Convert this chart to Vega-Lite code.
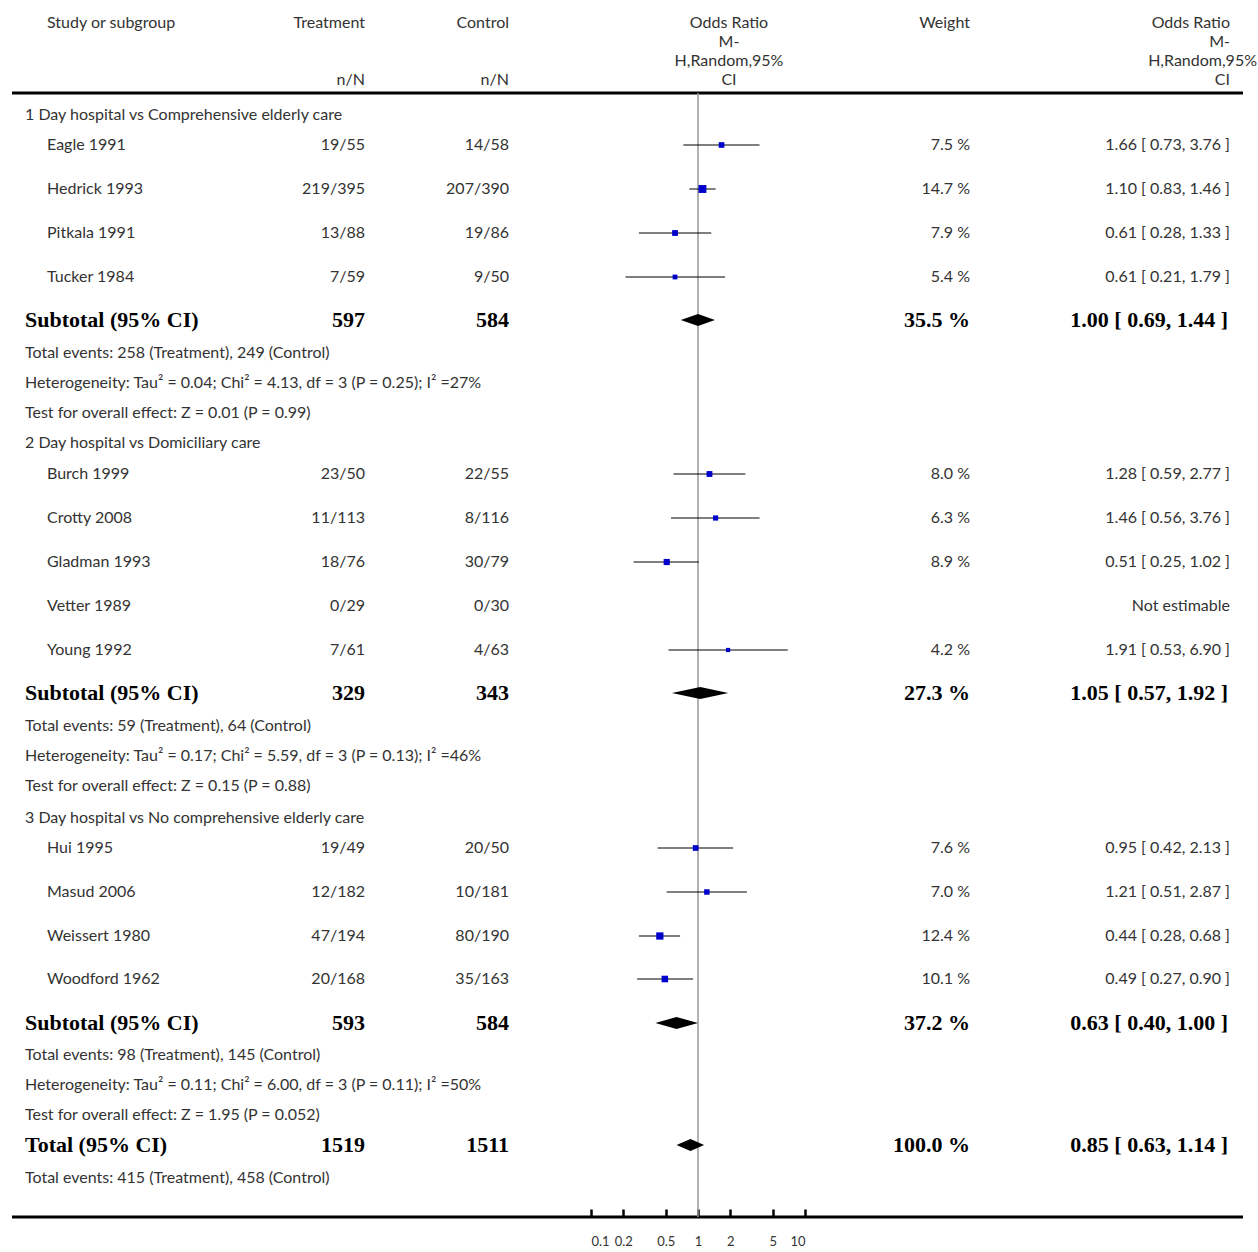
{
  "$schema": "https://vega.github.io/schema/vega-lite/v6.json",
  "width": 1258,
  "height": 1217,
  "padding": 0,
  "autosize": {"type": "pad"},
  "config": {"view": {"stroke": null}, "text": {"font": "Lato", "fontSize": 16, "color": "#333", "baseline": "middle"}},
  "datasets": {
    "cells": [
      {"c": "study", "y": 23, "t": "Study or subgroup", "b": 0},
      {"c": "treat", "y": 23, "t": "Treatment", "b": 0},
      {"c": "ctrl", "y": 23, "t": "Control", "b": 0},
      {"c": "treat", "y": 80, "t": "n/N", "b": 0},
      {"c": "ctrl", "y": 80, "t": "n/N", "b": 0},
      {"c": "orh", "y": 23, "t": "Odds Ratio", "b": 0},
      {"c": "orh", "y": 42, "t": "M-", "b": 0},
      {"c": "orh", "y": 61, "t": "H,Random,95%", "b": 0},
      {"c": "orh", "y": 80, "t": "CI", "b": 0},
      {"c": "wt", "y": 23, "t": "Weight", "b": 0},
      {"c": "or", "y": 23, "t": "Odds Ratio", "b": 0},
      {"c": "or", "y": 42, "t": "M-", "b": 0},
      {"c": "or2", "y": 61, "t": "H,Random,95%", "b": 0},
      {"c": "or", "y": 80, "t": "CI", "b": 0},
      {"c": "sub", "y": 115, "t": "1 Day hospital vs Comprehensive elderly care", "b": 0},
      {"c": "study", "y": 145, "t": "Eagle 1991", "b": 0},
      {"c": "treat", "y": 145, "t": "19/55", "b": 0},
      {"c": "ctrl", "y": 145, "t": "14/58", "b": 0},
      {"c": "wt", "y": 145, "t": "7.5 %", "b": 0},
      {"c": "or", "y": 145, "t": "1.66 [ 0.73, 3.76 ]", "b": 0},
      {"c": "study", "y": 189, "t": "Hedrick 1993", "b": 0},
      {"c": "treat", "y": 189, "t": "219/395", "b": 0},
      {"c": "ctrl", "y": 189, "t": "207/390", "b": 0},
      {"c": "wt", "y": 189, "t": "14.7 %", "b": 0},
      {"c": "or", "y": 189, "t": "1.10 [ 0.83, 1.46 ]", "b": 0},
      {"c": "study", "y": 233, "t": "Pitkala 1991", "b": 0},
      {"c": "treat", "y": 233, "t": "13/88", "b": 0},
      {"c": "ctrl", "y": 233, "t": "19/86", "b": 0},
      {"c": "wt", "y": 233, "t": "7.9 %", "b": 0},
      {"c": "or", "y": 233, "t": "0.61 [ 0.28, 1.33 ]", "b": 0},
      {"c": "study", "y": 277, "t": "Tucker 1984", "b": 0},
      {"c": "treat", "y": 277, "t": "7/59", "b": 0},
      {"c": "ctrl", "y": 277, "t": "9/50", "b": 0},
      {"c": "wt", "y": 277, "t": "5.4 %", "b": 0},
      {"c": "or", "y": 277, "t": "0.61 [ 0.21, 1.79 ]", "b": 0},
      {"c": "sub", "y": 320, "t": "Subtotal (95% CI)", "b": 1},
      {"c": "treat", "y": 320, "t": "597", "b": 1},
      {"c": "ctrl", "y": 320, "t": "584", "b": 1},
      {"c": "wt", "y": 320, "t": "35.5 %", "b": 1},
      {"c": "or", "y": 320, "t": "1.00 [ 0.69, 1.44 ]", "b": 1},
      {"c": "sub", "y": 353, "t": "Total events: 258 (Treatment), 249 (Control)", "b": 0},
      {"c": "sub", "y": 383, "t": "Heterogeneity: Tau² = 0.04; Chi² = 4.13, df = 3 (P = 0.25); I² =27%", "b": 0},
      {"c": "sub", "y": 413, "t": "Test for overall effect: Z = 0.01  (P = 0.99)", "b": 0},
      {"c": "sub", "y": 443, "t": "2 Day hospital vs Domiciliary care", "b": 0},
      {"c": "study", "y": 474, "t": "Burch 1999", "b": 0},
      {"c": "treat", "y": 474, "t": "23/50", "b": 0},
      {"c": "ctrl", "y": 474, "t": "22/55", "b": 0},
      {"c": "wt", "y": 474, "t": "8.0 %", "b": 0},
      {"c": "or", "y": 474, "t": "1.28 [ 0.59, 2.77 ]", "b": 0},
      {"c": "study", "y": 518, "t": "Crotty 2008", "b": 0},
      {"c": "treat", "y": 518, "t": "11/113", "b": 0},
      {"c": "ctrl", "y": 518, "t": "8/116", "b": 0},
      {"c": "wt", "y": 518, "t": "6.3 %", "b": 0},
      {"c": "or", "y": 518, "t": "1.46 [ 0.56, 3.76 ]", "b": 0},
      {"c": "study", "y": 562, "t": "Gladman 1993", "b": 0},
      {"c": "treat", "y": 562, "t": "18/76", "b": 0},
      {"c": "ctrl", "y": 562, "t": "30/79", "b": 0},
      {"c": "wt", "y": 562, "t": "8.9 %", "b": 0},
      {"c": "or", "y": 562, "t": "0.51 [ 0.25, 1.02 ]", "b": 0},
      {"c": "study", "y": 606, "t": "Vetter 1989", "b": 0},
      {"c": "treat", "y": 606, "t": "0/29", "b": 0},
      {"c": "ctrl", "y": 606, "t": "0/30", "b": 0},
      {"c": "or", "y": 606, "t": "Not estimable", "b": 0},
      {"c": "study", "y": 650, "t": "Young 1992", "b": 0},
      {"c": "treat", "y": 650, "t": "7/61", "b": 0},
      {"c": "ctrl", "y": 650, "t": "4/63", "b": 0},
      {"c": "wt", "y": 650, "t": "4.2 %", "b": 0},
      {"c": "or", "y": 650, "t": "1.91 [ 0.53, 6.90 ]", "b": 0},
      {"c": "sub", "y": 693, "t": "Subtotal (95% CI)", "b": 1},
      {"c": "treat", "y": 693, "t": "329", "b": 1},
      {"c": "ctrl", "y": 693, "t": "343", "b": 1},
      {"c": "wt", "y": 693, "t": "27.3 %", "b": 1},
      {"c": "or", "y": 693, "t": "1.05 [ 0.57, 1.92 ]", "b": 1},
      {"c": "sub", "y": 726, "t": "Total events: 59 (Treatment), 64 (Control)", "b": 0},
      {"c": "sub", "y": 756, "t": "Heterogeneity: Tau² = 0.17; Chi² = 5.59, df = 3 (P = 0.13); I² =46%", "b": 0},
      {"c": "sub", "y": 786, "t": "Test for overall effect: Z = 0.15  (P = 0.88)", "b": 0},
      {"c": "sub", "y": 818, "t": "3 Day hospital vs No comprehensive elderly care", "b": 0},
      {"c": "study", "y": 848, "t": "Hui 1995", "b": 0},
      {"c": "treat", "y": 848, "t": "19/49", "b": 0},
      {"c": "ctrl", "y": 848, "t": "20/50", "b": 0},
      {"c": "wt", "y": 848, "t": "7.6 %", "b": 0},
      {"c": "or", "y": 848, "t": "0.95 [ 0.42, 2.13 ]", "b": 0},
      {"c": "study", "y": 892, "t": "Masud   2006", "b": 0},
      {"c": "treat", "y": 892, "t": "12/182", "b": 0},
      {"c": "ctrl", "y": 892, "t": "10/181", "b": 0},
      {"c": "wt", "y": 892, "t": "7.0 %", "b": 0},
      {"c": "or", "y": 892, "t": "1.21 [ 0.51, 2.87 ]", "b": 0},
      {"c": "study", "y": 936, "t": "Weissert 1980", "b": 0},
      {"c": "treat", "y": 936, "t": "47/194", "b": 0},
      {"c": "ctrl", "y": 936, "t": "80/190", "b": 0},
      {"c": "wt", "y": 936, "t": "12.4 %", "b": 0},
      {"c": "or", "y": 936, "t": "0.44 [ 0.28, 0.68 ]", "b": 0},
      {"c": "study", "y": 979, "t": "Woodford 1962", "b": 0},
      {"c": "treat", "y": 979, "t": "20/168", "b": 0},
      {"c": "ctrl", "y": 979, "t": "35/163", "b": 0},
      {"c": "wt", "y": 979, "t": "10.1 %", "b": 0},
      {"c": "or", "y": 979, "t": "0.49 [ 0.27, 0.90 ]", "b": 0},
      {"c": "sub", "y": 1023, "t": "Subtotal (95% CI)", "b": 1},
      {"c": "treat", "y": 1023, "t": "593", "b": 1},
      {"c": "ctrl", "y": 1023, "t": "584", "b": 1},
      {"c": "wt", "y": 1023, "t": "37.2 %", "b": 1},
      {"c": "or", "y": 1023, "t": "0.63 [ 0.40, 1.00 ]", "b": 1},
      {"c": "sub", "y": 1055, "t": "Total events: 98 (Treatment), 145 (Control)", "b": 0},
      {"c": "sub", "y": 1085, "t": "Heterogeneity: Tau² = 0.11; Chi² = 6.00, df = 3 (P = 0.11); I² =50%", "b": 0},
      {"c": "sub", "y": 1115, "t": "Test for overall effect: Z = 1.95  (P = 0.052)", "b": 0},
      {"c": "sub", "y": 1145, "t": "Total (95% CI)", "b": 1},
      {"c": "treat", "y": 1145, "t": "1519", "b": 1},
      {"c": "ctrl", "y": 1145, "t": "1511", "b": 1},
      {"c": "wt", "y": 1145, "t": "100.0 %", "b": 1},
      {"c": "or", "y": 1145, "t": "0.85 [ 0.63, 1.14 ]", "b": 1},
      {"c": "sub", "y": 1178, "t": "Total events: 415 (Treatment), 458 (Control)", "b": 0}
    ],
    "studies": [
      {"y": 145, "or": 1.66, "lo": 0.73, "hi": 3.76, "w": 7.5},
      {"y": 189, "or": 1.10, "lo": 0.83, "hi": 1.46, "w": 14.7},
      {"y": 233, "or": 0.61, "lo": 0.28, "hi": 1.33, "w": 7.9},
      {"y": 277, "or": 0.61, "lo": 0.21, "hi": 1.79, "w": 5.4},
      {"y": 474, "or": 1.28, "lo": 0.59, "hi": 2.77, "w": 8.0},
      {"y": 518, "or": 1.46, "lo": 0.56, "hi": 3.76, "w": 6.3},
      {"y": 562, "or": 0.51, "lo": 0.25, "hi": 1.02, "w": 8.9},
      {"y": 650, "or": 1.91, "lo": 0.53, "hi": 6.90, "w": 4.2},
      {"y": 848, "or": 0.95, "lo": 0.42, "hi": 2.13, "w": 7.6},
      {"y": 892, "or": 1.21, "lo": 0.51, "hi": 2.87, "w": 7.0},
      {"y": 936, "or": 0.44, "lo": 0.28, "hi": 0.68, "w": 12.4},
      {"y": 979, "or": 0.49, "lo": 0.27, "hi": 0.90, "w": 10.1}
    ],
    "diamonds": [
      {"d": "s1", "y": 320, "x": 0.69, "tip": 0},
      {"d": "s1", "y": 320, "x": 1.00, "tip": 1},
      {"d": "s1", "y": 320, "x": 1.44, "tip": 0},
      {"d": "s2", "y": 693, "x": 0.57, "tip": 0},
      {"d": "s2", "y": 693, "x": 1.05, "tip": 1},
      {"d": "s2", "y": 693, "x": 1.92, "tip": 0},
      {"d": "s3", "y": 1023, "x": 0.40, "tip": 0},
      {"d": "s3", "y": 1023, "x": 0.63, "tip": 1},
      {"d": "s3", "y": 1023, "x": 1.00, "tip": 0},
      {"d": "t", "y": 1145, "x": 0.63, "tip": 0},
      {"d": "t", "y": 1145, "x": 0.85, "tip": 1},
      {"d": "t", "y": 1145, "x": 1.14, "tip": 0}
    ],
    "hlines": [{"y": 93}, {"y": 1217}]
  },
  "resolve": {"scale": {"x": "independent", "size": "independent"}, "axis": {"x": "independent"}},
  "layer": [
    {
      "data": {"name": "hlines"},
      "mark": {"type": "rule", "strokeWidth": 3, "color": "#000"},
      "encoding": {
        "x": {"value": 12},
        "x2": {"value": 1243},
        "y": {"field": "y", "type": "quantitative", "axis": null, "scale": {"domain": [0, 1217], "reverse": true, "nice": false, "zero": false}}
      }
    },
    {
      "data": {"values": [{"y": 93, "y2": 1217}]},
      "mark": {"type": "rule", "color": "#999", "strokeWidth": 1.5},
      "encoding": {
        "x": {"datum": 1, "type": "quantitative", "axis": null, "scale": {"type": "log", "domain": [0.1, 10], "range": [591, 805]}},
        "y": {"field": "y", "type": "quantitative"},
        "y2": {"field": "y2"}
      }
    },
    {
      "data": {"name": "studies"},
      "mark": {"type": "rule", "color": "#000", "strokeWidth": 1},
      "encoding": {
        "x": {"field": "lo", "type": "quantitative", "axis": null, "scale": {"type": "log", "domain": [0.1, 10], "range": [591, 805]}},
        "x2": {"field": "hi"},
        "y": {"field": "y", "type": "quantitative"}
      }
    },
    {
      "data": {"name": "studies"},
      "mark": {"type": "point", "shape": "square", "filled": true, "color": "#0000cc", "opacity": 1},
      "encoding": {
        "x": {"field": "or", "type": "quantitative", "scale": {"type": "log", "domain": [0.1, 10], "range": [591, 805]},
          "axis": {"orient": "bottom", "title": null, "values": [0.1, 0.2, 0.5, 1, 2, 5, 10], "format": ".1~f", "domain": false, "grid": false,
            "tickSize": -8, "tickWidth": 2.5, "tickColor": "#000", "labelPadding": 26, "labelFont": "Lato", "labelFontSize": 13, "labelColor": "#333"}},
        "y": {"field": "y", "type": "quantitative"},
        "size": {"field": "w", "type": "quantitative", "legend": null, "scale": {"domain": [0, 15], "range": [0, 64]}}
      }
    },
    {
      "data": {"name": "diamonds"},
      "transform": [
        {"calculate": "datum.y - 6 * datum.tip", "as": "top"},
        {"calculate": "datum.y + 6 * datum.tip", "as": "bot"}
      ],
      "mark": {"type": "area", "color": "#000", "orient": "vertical"},
      "encoding": {
        "x": {"field": "x", "type": "quantitative", "axis": null, "scale": {"type": "log", "domain": [0.1, 10], "range": [591, 805]}},
        "y": {"field": "top", "type": "quantitative"},
        "y2": {"field": "bot"},
        "detail": {"field": "d"}
      }
    },
    {
      "data": {"name": "cells"},
      "transform": [{"filter": "datum.c === 'sub' && datum.b === 0"}],
      "mark": {"type": "text", "align": "left"},
      "encoding": {"x": {"value": 25}, "y": {"field": "y", "type": "quantitative"}, "text": {"field": "t"}}
    },
    {
      "data": {"name": "cells"},
      "transform": [{"filter": "datum.c === 'study'"}],
      "mark": {"type": "text", "align": "left"},
      "encoding": {"x": {"value": 47}, "y": {"field": "y", "type": "quantitative"}, "text": {"field": "t"}}
    },
    {
      "data": {"name": "cells"},
      "transform": [{"filter": "datum.c === 'sub' && datum.b === 1"}],
      "mark": {"type": "text", "align": "left", "font": "Liberation Serif", "fontWeight": "bold", "fontSize": 22, "color": "#000"},
      "encoding": {"x": {"value": 25}, "y": {"field": "y", "type": "quantitative"}, "text": {"field": "t"}}
    },
    {
      "data": {"name": "cells"},
      "transform": [{"filter": "datum.c === 'treat' && datum.b === 0"}],
      "mark": {"type": "text", "align": "right"},
      "encoding": {"x": {"value": 365}, "y": {"field": "y", "type": "quantitative"}, "text": {"field": "t"}}
    },
    {
      "data": {"name": "cells"},
      "transform": [{"filter": "datum.c === 'ctrl' && datum.b === 0"}],
      "mark": {"type": "text", "align": "right"},
      "encoding": {"x": {"value": 509}, "y": {"field": "y", "type": "quantitative"}, "text": {"field": "t"}}
    },
    {
      "data": {"name": "cells"},
      "transform": [{"filter": "datum.c === 'wt' && datum.b === 0"}],
      "mark": {"type": "text", "align": "right"},
      "encoding": {"x": {"value": 970}, "y": {"field": "y", "type": "quantitative"}, "text": {"field": "t"}}
    },
    {
      "data": {"name": "cells"},
      "transform": [{"filter": "datum.c === 'or' && datum.b === 0"}],
      "mark": {"type": "text", "align": "right"},
      "encoding": {"x": {"value": 1230}, "y": {"field": "y", "type": "quantitative"}, "text": {"field": "t"}}
    },
    {
      "data": {"name": "cells"},
      "transform": [{"filter": "datum.c === 'or2'"}],
      "mark": {"type": "text", "align": "right"},
      "encoding": {"x": {"value": 1257}, "y": {"field": "y", "type": "quantitative"}, "text": {"field": "t"}}
    },
    {
      "data": {"name": "cells"},
      "transform": [{"filter": "datum.c === 'orh'"}],
      "mark": {"type": "text", "align": "center"},
      "encoding": {"x": {"value": 729}, "y": {"field": "y", "type": "quantitative"}, "text": {"field": "t"}}
    },
    {
      "data": {"name": "cells"},
      "transform": [{"filter": "datum.c === 'treat' && datum.b === 1"}],
      "mark": {"type": "text", "align": "right", "font": "Liberation Serif", "fontWeight": "bold", "fontSize": 22, "color": "#000"},
      "encoding": {"x": {"value": 365}, "y": {"field": "y", "type": "quantitative"}, "text": {"field": "t"}}
    },
    {
      "data": {"name": "cells"},
      "transform": [{"filter": "datum.c === 'ctrl' && datum.b === 1"}],
      "mark": {"type": "text", "align": "right", "font": "Liberation Serif", "fontWeight": "bold", "fontSize": 22, "color": "#000"},
      "encoding": {"x": {"value": 509}, "y": {"field": "y", "type": "quantitative"}, "text": {"field": "t"}}
    },
    {
      "data": {"name": "cells"},
      "transform": [{"filter": "datum.c === 'wt' && datum.b === 1"}],
      "mark": {"type": "text", "align": "right", "font": "Liberation Serif", "fontWeight": "bold", "fontSize": 22, "color": "#000"},
      "encoding": {"x": {"value": 970}, "y": {"field": "y", "type": "quantitative"}, "text": {"field": "t"}}
    },
    {
      "data": {"name": "cells"},
      "transform": [{"filter": "datum.c === 'or' && datum.b === 1"}],
      "mark": {"type": "text", "align": "right", "font": "Liberation Serif", "fontWeight": "bold", "fontSize": 22, "color": "#000"},
      "encoding": {"x": {"value": 1228}, "y": {"field": "y", "type": "quantitative"}, "text": {"field": "t"}}
    }
  ]
}
